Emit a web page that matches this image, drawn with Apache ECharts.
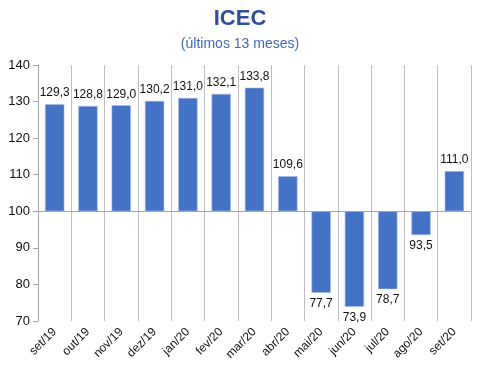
<!DOCTYPE html>
<html><head><meta charset="utf-8">
<script src="https://cdn.jsdelivr.net/npm/echarts@6/dist/echarts.min.js"></script>
<style>html,body{margin:0;padding:0;background:#fff}#c{width:480px;height:368px}</style>
</head><body><div id="c"></div>
<script>
const categories = ['set/19','out/19','nov/19','dez/19','jan/20','fev/20','mar/20','abr/20','mai/20','jun/20','jul/20','ago/20','set/20'];
const values = [129.3,128.8,129.0,130.2,131.0,132.1,133.8,109.6,77.7,73.9,78.7,93.5,111.0];
const baseline = 100;
const yTicks = [70,80,90,100,110,120,130,140];

const fontFam = '"Liberation Sans", Arial, sans-serif';
const chart = echarts.init(document.getElementById('c'));
const fmt = v => v.toFixed(1).replace('.', ',');
chart.setOption({
  animation: false,
  title: [
    {text: 'ICEC', left: 'center', top: 3, textStyle: {fontFamily: fontFam, fontSize: 22, fontWeight: 'bold', color: '#2F4F99'}},
    {text: '(últimos 13 meses)', left: 'center', top: 32, textStyle: {fontFamily: fontFam, fontSize: 14, fontWeight: 'normal', color: '#4169B8'}}
  ],
  grid: {left: 38, right: 9, top: 65, bottom: 47},
  xAxis: {
    type: 'category', data: categories,
    axisLine: {show: false}, axisTick: {show: false},
    splitLine: {show: true, lineStyle: {color: '#BFBFBF', width: 1}},
    axisLabel: {rotate: 45, fontFamily: fontFam, fontSize: 12, color: '#111', margin: 9, interval: 0}
  },
  yAxis: {
    type: 'value', min: yTicks[0] - baseline, max: yTicks[yTicks.length-1] - baseline, interval: 10,
    axisLine: {show: true, lineStyle: {color: '#A6A6A6'}},
    axisTick: {show: true, length: 5, lineStyle: {color: '#A6A6A6'}},
    splitLine: {show: false},
    axisLabel: {formatter: v => String(v + baseline), fontFamily: fontFam, fontSize: 13, color: '#111', margin: 8}
  },
  series: [{
    type: 'bar', barWidth: '58%',
    data: values.map(v => ({
      value: +(v - baseline).toFixed(1),
      label: {position: v >= baseline ? 'top' : 'bottom'}
    })),
    itemStyle: {color: '#4472C4', borderColor: '#A9BDE6', borderWidth: 0.6},
    label: {show: true, distance: 5, formatter: p => fmt(p.value + baseline), fontFamily: fontFam, fontSize: 12, color: '#111'},
    markLine: {silent: true, symbol: 'none', label: {show: false},
      lineStyle: {color: '#A6A6A6', type: 'solid', width: 1},
      data: [{yAxis: 0}]}
  }]
});
</script></body></html>
